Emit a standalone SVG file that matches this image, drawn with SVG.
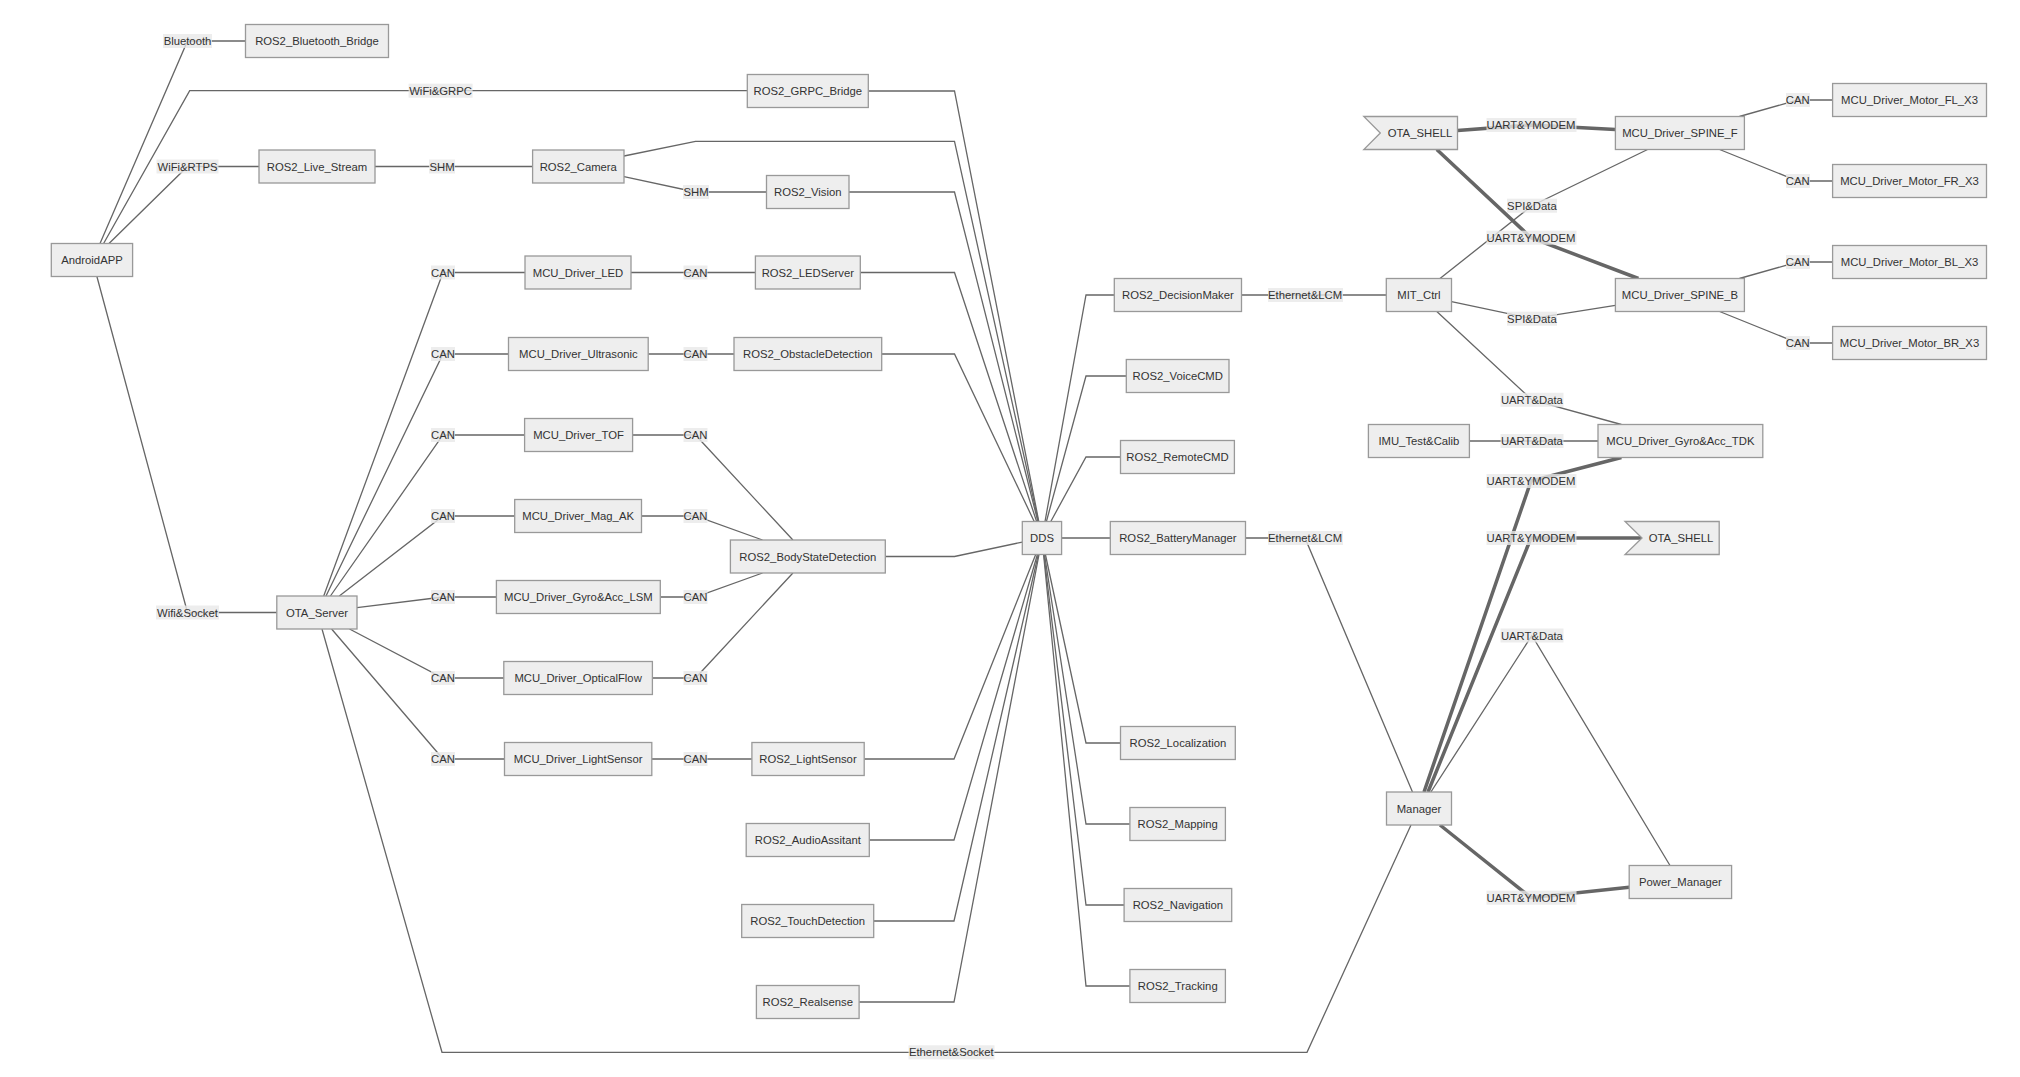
<svg xmlns="http://www.w3.org/2000/svg" width="2020" height="1077" viewBox="0 0 2020 1077">
<style>
.n rect,.n polygon{fill:#eeeeee;stroke:#999999;stroke-width:1.3}
.n text{font-family:"Liberation Sans",Arial,sans-serif;font-size:11.3px;fill:#333333;text-anchor:middle}
.e{fill:none;stroke:#666666;stroke-width:1.3}
.t{fill:none;stroke:#666666;stroke-width:3.5}
.l rect{fill:#e8e8e8;fill-opacity:0.8}
.l text{font-family:"Liberation Sans",Arial,sans-serif;font-size:11.3px;fill:#333333;text-anchor:middle}
</style>
<rect width="2020" height="1077" fill="#ffffff"/>
<g id="connectors">
<polyline class="e" points="100,243.5 187.5,41 245.5,41"/>
<polyline class="e" points="103.6,243.5 189.7,90.7 747.3,90.7"/>
<polyline class="e" points="109,243.5 187.5,166.5 259,166.5"/>
<polyline class="e" points="96.9,276.5 187.5,612.5 276.8,612.5"/>
<polyline class="e" points="375,166.5 532.6,166.5"/>
<polyline class="e" points="624,156 695.5,141.3 954.5,141.3 1038.4,521.5"/>
<polyline class="e" points="624,176.7 695.5,192 766.5,192"/>
<polyline class="e" points="868.3,91 954.5,91 1038.8,521.5"/>
<polyline class="e" points="849,192 954.5,192 1037.9,521.5"/>
<polyline class="e" points="323.7,596 443,272.5 525,272.5"/>
<polyline class="e" points="631,272.5 755.4,272.5"/>
<polyline class="e" points="860.3,272.5 954.5,272.5 1036.6,521.5"/>
<polyline class="e" points="326,596 443,354 508.5,354"/>
<polyline class="e" points="648.2,354 734,354"/>
<polyline class="e" points="881.7,354 954.5,354 1034.2,521.5"/>
<polyline class="e" points="330.4,596 443,435 524.6,435"/>
<polyline class="e" points="632.6,435 695.5,435 792.9,540"/>
<polyline class="e" points="339.3,596 443,516 514.7,516"/>
<polyline class="e" points="641.5,516 695.5,516 762.5,540"/>
<polyline class="e" points="357,607.7 443,597 496.4,597"/>
<polyline class="e" points="660.3,597 695.5,597 762.5,573"/>
<polyline class="e" points="349.5,629 443,678 503.8,678"/>
<polyline class="e" points="652.4,678 695.5,678 792.9,573"/>
<polyline class="e" points="331.6,629 443,759 504.5,759"/>
<polyline class="e" points="651.8,759 751.9,759"/>
<polyline class="e" points="864.2,759 954,759 1035.7,554.5"/>
<polyline class="e" points="869.3,840 954,840 1037.4,554.5"/>
<polyline class="e" points="873.7,921 954,921 1038.3,554.5"/>
<polyline class="e" points="859.1,1002 954,1002 1039,554.5"/>
<polyline class="e" points="885.3,556.5 954.5,556.5 1022.3,542.1"/>
<polyline class="e" points="322,629 442,1052.3 1307,1052.3 1411,825"/>
<polyline class="e" points="1045,521.5 1086,295 1114.3,295"/>
<polyline class="e" points="1046.4,521.5 1086,376 1126.3,376"/>
<polyline class="e" points="1050.8,521.5 1086,457 1120.5,457"/>
<polyline class="e" points="1061.6,538 1110.3,538"/>
<polyline class="e" points="1045.4,554.5 1086,743 1120.5,743"/>
<polyline class="e" points="1044.5,554.5 1086,824 1129.9,824"/>
<polyline class="e" points="1043.9,554.5 1086,905 1124.1,905"/>
<polyline class="e" points="1043.6,554.5 1086,986 1129.9,986"/>
<polyline class="e" points="1241.5,295 1386.3,295"/>
<polyline class="e" points="1245.5,538 1305,538 1412.5,792"/>
<polyline class="e" points="1440,278.5 1531.9,205.7 1647.6,149.5"/>
<polyline class="e" points="1451.5,301.7 1531.9,318.7 1615.4,305.3"/>
<polyline class="e" points="1436.8,311.5 1531.9,399.8 1621.4,424.5"/>
<polyline class="e" points="1469.4,441 1598,441"/>
<polyline class="t" points="1457.5,130.5 1531,125 1615.4,129.5"/>
<polyline class="t" points="1436.8,149.5 1531,237.7 1638.4,278.5"/>
<polyline class="t" points="1424,792 1531,481 1621.4,457.5"/>
<polyline class="t" points="1428,792 1531,538 1642,538"/>
<polyline class="e" points="1430.9,792 1531.9,635.5 1670,865.5"/>
<polyline class="t" points="1440,825 1531,897.7 1629.2,887.3"/>
<polyline class="e" points="1739.4,116.5 1797.7,100 1832.6,100"/>
<polyline class="e" points="1719.6,149.5 1797.7,181 1832.6,181"/>
<polyline class="e" points="1739.4,278.5 1797.7,262 1832.6,262"/>
<polyline class="e" points="1719.6,311.5 1797.7,343 1832.6,343"/>
</g>
<g id="edge-labels" class="l">
<rect x="163" y="34" width="49" height="14"/><text x="187.5" y="45">Bluetooth</text>
<rect x="408.6" y="83.7" width="64" height="14"/><text x="440.6" y="94.7">WiFi&amp;GRPC</text>
<rect x="156.5" y="159.5" width="62" height="14"/><text x="187.5" y="170.5">WiFi&amp;RTPS</text>
<rect x="156" y="605.5" width="63" height="14"/><text x="187.5" y="616.5">Wifi&amp;Socket</text>
<rect x="429" y="159.5" width="26" height="14"/><text x="442" y="170.5">SHM</text>
<rect x="683" y="185" width="26" height="14"/><text x="696" y="196">SHM</text>
<rect x="431" y="265.5" width="24" height="14"/><text x="443" y="276.5">CAN</text>
<rect x="431" y="347" width="24" height="14"/><text x="443" y="358">CAN</text>
<rect x="431" y="428" width="24" height="14"/><text x="443" y="439">CAN</text>
<rect x="431" y="509" width="24" height="14"/><text x="443" y="520">CAN</text>
<rect x="431" y="590" width="24" height="14"/><text x="443" y="601">CAN</text>
<rect x="431" y="671" width="24" height="14"/><text x="443" y="682">CAN</text>
<rect x="431" y="752" width="24" height="14"/><text x="443" y="763">CAN</text>
<rect x="683.5" y="265.5" width="24" height="14"/><text x="695.5" y="276.5">CAN</text>
<rect x="683.5" y="347" width="24" height="14"/><text x="695.5" y="358">CAN</text>
<rect x="683.5" y="428" width="24" height="14"/><text x="695.5" y="439">CAN</text>
<rect x="683.5" y="509" width="24" height="14"/><text x="695.5" y="520">CAN</text>
<rect x="683.5" y="590" width="24" height="14"/><text x="695.5" y="601">CAN</text>
<rect x="683.5" y="671" width="24" height="14"/><text x="695.5" y="682">CAN</text>
<rect x="683.5" y="752" width="24" height="14"/><text x="695.5" y="763">CAN</text>
<rect x="908.5" y="1045.3" width="86" height="14"/><text x="951.3" y="1056.3">Ethernet&amp;Socket</text>
<rect x="1268" y="288" width="75" height="14"/><text x="1305" y="299">Ethernet&amp;LCM</text>
<rect x="1268" y="531" width="75" height="14"/><text x="1305" y="542">Ethernet&amp;LCM</text>
<rect x="1486.5" y="118" width="90" height="14"/><text x="1531" y="129">UART&amp;YMODEM</text>
<rect x="1507" y="198.7" width="50" height="14"/><text x="1531.9" y="209.7">SPI&amp;Data</text>
<rect x="1486.5" y="230.7" width="90" height="14"/><text x="1531" y="241.7">UART&amp;YMODEM</text>
<rect x="1507" y="311.7" width="50" height="14"/><text x="1531.9" y="322.7">SPI&amp;Data</text>
<rect x="1500.5" y="392.8" width="63" height="14"/><text x="1531.9" y="403.8">UART&amp;Data</text>
<rect x="1500.5" y="434" width="63" height="14"/><text x="1531.9" y="445">UART&amp;Data</text>
<rect x="1486.5" y="474" width="90" height="14"/><text x="1531" y="485">UART&amp;YMODEM</text>
<rect x="1486.5" y="531" width="90" height="14"/><text x="1531" y="542">UART&amp;YMODEM</text>
<rect x="1500.5" y="628.5" width="63" height="14"/><text x="1531.9" y="639.5">UART&amp;Data</text>
<rect x="1486.5" y="890.7" width="90" height="14"/><text x="1531" y="901.7">UART&amp;YMODEM</text>
<rect x="1786" y="93" width="24" height="14"/><text x="1797.7" y="104">CAN</text>
<rect x="1786" y="174" width="24" height="14"/><text x="1797.7" y="185">CAN</text>
<rect x="1786" y="255" width="24" height="14"/><text x="1797.7" y="266">CAN</text>
<rect x="1786" y="336" width="24" height="14"/><text x="1797.7" y="347">CAN</text>
</g>
<g id="AndroidAPP" class="n"><rect x="51.3" y="243.5" width="81.3" height="33"/><text x="92" y="264">AndroidAPP</text></g>
<g id="ROS2_Bluetooth_Bridge" class="n"><rect x="245.5" y="24.5" width="143" height="33"/><text x="317" y="45">ROS2_Bluetooth_Bridge</text></g>
<g id="ROS2_Live_Stream" class="n"><rect x="259" y="150" width="116" height="33"/><text x="317" y="170.5">ROS2_Live_Stream</text></g>
<g id="OTA_Server" class="n"><rect x="276.8" y="596" width="80.2" height="33"/><text x="317" y="616.5">OTA_Server</text></g>
<g id="ROS2_Camera" class="n"><rect x="532.6" y="150" width="91.4" height="33"/><text x="578.3" y="170.5">ROS2_Camera</text></g>
<g id="MCU_Driver_LED" class="n"><rect x="525" y="256" width="106" height="33"/><text x="578" y="276.5">MCU_Driver_LED</text></g>
<g id="MCU_Driver_Ultrasonic" class="n"><rect x="508.5" y="337.5" width="139.7" height="33"/><text x="578.4" y="358">MCU_Driver_Ultrasonic</text></g>
<g id="MCU_Driver_TOF" class="n"><rect x="524.6" y="418.5" width="108" height="33"/><text x="578.6" y="439">MCU_Driver_TOF</text></g>
<g id="MCU_Driver_Mag_AK" class="n"><rect x="514.7" y="499.5" width="126.8" height="33"/><text x="578.1" y="520">MCU_Driver_Mag_AK</text></g>
<g id="MCU_Driver_Gyro_Acc_LSM" class="n"><rect x="496.4" y="580.5" width="163.9" height="33"/><text x="578.4" y="601">MCU_Driver_Gyro&amp;Acc_LSM</text></g>
<g id="MCU_Driver_OpticalFlow" class="n"><rect x="503.8" y="661.5" width="148.6" height="33"/><text x="578.1" y="682">MCU_Driver_OpticalFlow</text></g>
<g id="MCU_Driver_LightSensor" class="n"><rect x="504.5" y="742.5" width="147.3" height="33"/><text x="578.2" y="763">MCU_Driver_LightSensor</text></g>
<g id="ROS2_GRPC_Bridge" class="n"><rect x="747.3" y="74.5" width="121" height="33"/><text x="807.8" y="95">ROS2_GRPC_Bridge</text></g>
<g id="ROS2_Vision" class="n"><rect x="766.5" y="175.5" width="82.5" height="33"/><text x="807.8" y="196">ROS2_Vision</text></g>
<g id="ROS2_LEDServer" class="n"><rect x="755.4" y="256" width="104.9" height="33"/><text x="807.8" y="276.5">ROS2_LEDServer</text></g>
<g id="ROS2_ObstacleDetection" class="n"><rect x="734" y="337.5" width="147.7" height="33"/><text x="807.8" y="358">ROS2_ObstacleDetection</text></g>
<g id="ROS2_BodyStateDetection" class="n"><rect x="730.4" y="540" width="154.9" height="33"/><text x="807.8" y="560.5">ROS2_BodyStateDetection</text></g>
<g id="ROS2_LightSensor" class="n"><rect x="751.9" y="742.5" width="112.3" height="33"/><text x="808" y="763">ROS2_LightSensor</text></g>
<g id="ROS2_AudioAssitant" class="n"><rect x="746.2" y="823.5" width="123.1" height="33"/><text x="807.8" y="844">ROS2_AudioAssitant</text></g>
<g id="ROS2_TouchDetection" class="n"><rect x="741.7" y="904.5" width="132" height="33"/><text x="807.7" y="925">ROS2_TouchDetection</text></g>
<g id="ROS2_Realsense" class="n"><rect x="756.4" y="985.5" width="102.7" height="33"/><text x="807.8" y="1006">ROS2_Realsense</text></g>
<g id="DDS" class="n"><rect x="1022.3" y="521.5" width="39.3" height="33"/><text x="1042" y="542">DDS</text></g>
<g id="ROS2_DecisionMaker" class="n"><rect x="1114.3" y="278.5" width="127.2" height="33"/><text x="1177.9" y="299">ROS2_DecisionMaker</text></g>
<g id="ROS2_VoiceCMD" class="n"><rect x="1126.3" y="359.5" width="102.7" height="33"/><text x="1177.7" y="380">ROS2_VoiceCMD</text></g>
<g id="ROS2_RemoteCMD" class="n"><rect x="1120.5" y="440.5" width="113.9" height="33"/><text x="1177.5" y="461">ROS2_RemoteCMD</text></g>
<g id="ROS2_BatteryManager" class="n"><rect x="1110.3" y="521.5" width="135.2" height="33"/><text x="1177.9" y="542">ROS2_BatteryManager</text></g>
<g id="ROS2_Localization" class="n"><rect x="1120.5" y="726.5" width="114.8" height="33"/><text x="1177.9" y="747">ROS2_Localization</text></g>
<g id="ROS2_Mapping" class="n"><rect x="1129.9" y="807.5" width="95.5" height="33"/><text x="1177.7" y="828">ROS2_Mapping</text></g>
<g id="ROS2_Navigation" class="n"><rect x="1124.1" y="888.5" width="107.6" height="33"/><text x="1177.9" y="909">ROS2_Navigation</text></g>
<g id="ROS2_Tracking" class="n"><rect x="1129.9" y="969.5" width="95.5" height="33"/><text x="1177.7" y="990">ROS2_Tracking</text></g>
<g id="MIT_Ctrl" class="n"><rect x="1386.3" y="278.5" width="65.2" height="33"/><text x="1418.9" y="299">MIT_Ctrl</text></g>
<g id="OTA_SHELL_1" class="n"><polygon points="1363.8,116.5 1457.5,116.5 1457.5,149.5 1363.8,149.5 1380.3,133"/><text x="1420" y="137">OTA_SHELL</text></g>
<g id="IMU_Test_Calib" class="n"><rect x="1368.4" y="424.5" width="101" height="33"/><text x="1418.9" y="445">IMU_Test&amp;Calib</text></g>
<g id="Manager" class="n"><rect x="1386.5" y="792" width="65" height="33"/><text x="1419" y="812.5">Manager</text></g>
<g id="MCU_Driver_SPINE_F" class="n"><rect x="1615.4" y="116.5" width="129" height="33"/><text x="1679.9" y="137">MCU_Driver_SPINE_F</text></g>
<g id="MCU_Driver_SPINE_B" class="n"><rect x="1615.4" y="278.5" width="129" height="33"/><text x="1679.9" y="299">MCU_Driver_SPINE_B</text></g>
<g id="MCU_Driver_Gyro_Acc_TDK" class="n"><rect x="1598" y="424.5" width="164.8" height="33"/><text x="1680.4" y="445">MCU_Driver_Gyro&amp;Acc_TDK</text></g>
<g id="OTA_SHELL_2" class="n"><polygon points="1625,521.5 1719.2,521.5 1719.2,554.5 1625,554.5 1642,538"/><text x="1681" y="542">OTA_SHELL</text></g>
<g id="Power_Manager" class="n"><rect x="1629.2" y="865.5" width="102.4" height="33"/><text x="1680.4" y="886">Power_Manager</text></g>
<g id="MCU_Driver_Motor_FL_X3" class="n"><rect x="1832.6" y="83.5" width="153.9" height="33"/><text x="1909.5" y="104">MCU_Driver_Motor_FL_X3</text></g>
<g id="MCU_Driver_Motor_FR_X3" class="n"><rect x="1832.6" y="164.5" width="153.9" height="33"/><text x="1909.5" y="185">MCU_Driver_Motor_FR_X3</text></g>
<g id="MCU_Driver_Motor_BL_X3" class="n"><rect x="1832.6" y="245.5" width="153.9" height="33"/><text x="1909.5" y="266">MCU_Driver_Motor_BL_X3</text></g>
<g id="MCU_Driver_Motor_BR_X3" class="n"><rect x="1832.6" y="326.5" width="153.9" height="33"/><text x="1909.5" y="347">MCU_Driver_Motor_BR_X3</text></g>
</svg>
